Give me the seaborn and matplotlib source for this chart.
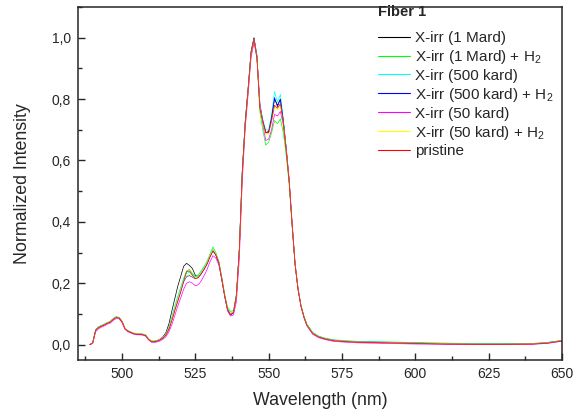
"""
Fiber 1 emission spectra, normalized, for several irradiation / H2 treatments.
"""

import numpy as np
import pandas as pd
import matplotlib
matplotlib.use("Agg")
import matplotlib.pyplot as plt
import seaborn as sns
from matplotlib.ticker import MultipleLocator, FuncFormatter

# ─────────────────────────────────────────────
# DATA
# ─────────────────────────────────────────────

WAVELENGTH = [
    489, 490, 491, 492, 493, 494, 495, 496, 497, 498,
    499, 500, 501, 502, 503, 504, 505, 506, 507, 508,
    509, 510, 511, 512, 513, 514, 515, 516, 517, 518,
    519, 520, 521, 522, 523, 524, 525, 526, 527, 528,
    529, 530, 531, 532, 533, 534, 535, 536, 537, 538,
    539, 540, 541, 542, 543, 544, 545, 546, 547, 548,
    549, 550, 551, 552, 553, 554, 555, 556, 557, 558,
    559, 560, 561, 562, 563,
    565, 567, 569, 572, 576, 580, 590, 600, 610, 620, 630, 640, 645, 650,
]

X_1MARD = [
    0.000, 0.006, 0.048, 0.057, 0.062, 0.066, 0.071, 0.075, 0.084, 0.090,
    0.088, 0.076, 0.053, 0.045, 0.041, 0.037, 0.035, 0.035, 0.034, 0.031,
    0.019, 0.011, 0.011, 0.013, 0.018, 0.026, 0.040, 0.068, 0.110, 0.150,
    0.190, 0.222, 0.255, 0.265, 0.258, 0.248, 0.226, 0.222, 0.232, 0.248,
    0.265, 0.288, 0.308, 0.292, 0.266, 0.212, 0.158, 0.112, 0.097, 0.104,
    0.158, 0.312, 0.565, 0.725, 0.835, 0.955, 1.000, 0.940, 0.775, 0.730,
    0.690, 0.695, 0.740, 0.800, 0.780, 0.800, 0.730, 0.635, 0.530, 0.390,
    0.262, 0.182, 0.127, 0.092, 0.065,
    0.038, 0.026, 0.020, 0.014, 0.011, 0.009, 0.007, 0.005, 0.003, 0.002, 0.002, 0.003, 0.006, 0.013,
]

X_1MARD_H2 = [
    0.000, 0.005, 0.046, 0.058, 0.063, 0.067, 0.072, 0.076, 0.085, 0.091,
    0.089, 0.077, 0.054, 0.045, 0.041, 0.037, 0.036, 0.035, 0.035, 0.032,
    0.020, 0.012, 0.012, 0.014, 0.018, 0.024, 0.035, 0.055, 0.090, 0.125,
    0.155, 0.185, 0.215, 0.240, 0.245, 0.232, 0.222, 0.228, 0.240, 0.255,
    0.272, 0.295, 0.318, 0.300, 0.272, 0.222, 0.165, 0.122, 0.108, 0.112,
    0.165, 0.305, 0.550, 0.710, 0.825, 0.945, 0.990, 0.930, 0.760, 0.700,
    0.650, 0.660, 0.690, 0.730, 0.720, 0.735, 0.690, 0.615, 0.520, 0.385,
    0.262, 0.184, 0.130, 0.095, 0.068,
    0.040, 0.028, 0.022, 0.016, 0.013, 0.011, 0.009, 0.007, 0.005, 0.004, 0.004, 0.004, 0.007, 0.014,
]

X_500K = [
    0.000, 0.006, 0.047, 0.057, 0.062, 0.066, 0.071, 0.075, 0.084, 0.090,
    0.088, 0.076, 0.053, 0.045, 0.041, 0.037, 0.035, 0.035, 0.034, 0.031,
    0.019, 0.011, 0.011, 0.013, 0.017, 0.024, 0.036, 0.056, 0.090, 0.125,
    0.155, 0.185, 0.215, 0.232, 0.236, 0.228, 0.220, 0.225, 0.238, 0.252,
    0.268, 0.292, 0.312, 0.298, 0.270, 0.220, 0.163, 0.118, 0.102, 0.108,
    0.162, 0.315, 0.565, 0.728, 0.838, 0.955, 0.998, 0.945, 0.785, 0.735,
    0.700, 0.700, 0.750, 0.825, 0.790, 0.815, 0.735, 0.640, 0.535, 0.392,
    0.263, 0.183, 0.128, 0.093, 0.066,
    0.039, 0.027, 0.021, 0.015, 0.012, 0.010, 0.008, 0.006, 0.004, 0.003, 0.003, 0.004, 0.007, 0.014,
]

X_500K_H2 = [
    0.000, 0.005, 0.046, 0.056, 0.061, 0.065, 0.070, 0.074, 0.083, 0.089,
    0.087, 0.075, 0.052, 0.044, 0.040, 0.036, 0.034, 0.034, 0.033, 0.030,
    0.018, 0.010, 0.010, 0.012, 0.016, 0.022, 0.033, 0.052, 0.082, 0.115,
    0.145, 0.175, 0.205, 0.222, 0.225, 0.220, 0.215, 0.220, 0.232, 0.247,
    0.264, 0.288, 0.306, 0.294, 0.268, 0.216, 0.160, 0.114, 0.098, 0.104,
    0.160, 0.312, 0.562, 0.725, 0.835, 0.952, 0.998, 0.940, 0.778, 0.728,
    0.692, 0.692, 0.740, 0.805, 0.775, 0.800, 0.728, 0.635, 0.532, 0.390,
    0.261, 0.181, 0.126, 0.091, 0.064,
    0.037, 0.026, 0.020, 0.014, 0.011, 0.009, 0.007, 0.005, 0.003, 0.002, 0.002, 0.003, 0.006, 0.013,
]

X_50K = [
    0.000, 0.004, 0.042, 0.052, 0.057, 0.061, 0.067, 0.070, 0.079, 0.085,
    0.084, 0.072, 0.050, 0.042, 0.038, 0.034, 0.032, 0.032, 0.031, 0.028,
    0.016, 0.008, 0.007, 0.009, 0.012, 0.018, 0.026, 0.042, 0.065, 0.095,
    0.125, 0.152, 0.180, 0.200, 0.205, 0.200, 0.192, 0.195, 0.208, 0.225,
    0.245, 0.270, 0.290, 0.282, 0.260, 0.215, 0.158, 0.110, 0.093, 0.097,
    0.140, 0.280, 0.530, 0.705, 0.815, 0.935, 0.985, 0.935, 0.790, 0.720,
    0.665, 0.670, 0.700, 0.750, 0.745, 0.760, 0.715, 0.640, 0.540, 0.400,
    0.268, 0.185, 0.126, 0.089, 0.062,
    0.034, 0.023, 0.017, 0.011, 0.008, 0.006, 0.004, 0.002, 0.001, 0.000, 0.000, 0.001, 0.004, 0.011,
]

X_50K_H2 = [
    0.000, 0.005, 0.045, 0.056, 0.061, 0.065, 0.071, 0.074, 0.083, 0.089,
    0.088, 0.076, 0.053, 0.045, 0.041, 0.037, 0.035, 0.035, 0.034, 0.031,
    0.019, 0.011, 0.011, 0.013, 0.017, 0.023, 0.034, 0.053, 0.084, 0.118,
    0.148, 0.178, 0.208, 0.225, 0.228, 0.222, 0.216, 0.222, 0.234, 0.249,
    0.266, 0.290, 0.309, 0.296, 0.270, 0.218, 0.162, 0.116, 0.100, 0.106,
    0.158, 0.308, 0.558, 0.720, 0.830, 0.948, 0.995, 0.938, 0.775, 0.722,
    0.685, 0.685, 0.725, 0.775, 0.765, 0.780, 0.720, 0.632, 0.530, 0.390,
    0.261, 0.181, 0.126, 0.091, 0.064,
    0.037, 0.026, 0.020, 0.014, 0.011, 0.009, 0.007, 0.005, 0.003, 0.002, 0.002, 0.003, 0.006, 0.013,
]

PRISTINE = [
    0.000, 0.005, 0.045, 0.055, 0.060, 0.064, 0.070, 0.073, 0.082, 0.088,
    0.087, 0.075, 0.052, 0.044, 0.040, 0.036, 0.034, 0.034, 0.033, 0.030,
    0.018, 0.010, 0.010, 0.012, 0.016, 0.022, 0.032, 0.050, 0.078, 0.110,
    0.140, 0.170, 0.205, 0.238, 0.240, 0.226, 0.215, 0.218, 0.230, 0.245,
    0.262, 0.285, 0.305, 0.292, 0.268, 0.215, 0.160, 0.115, 0.098, 0.105,
    0.160, 0.310, 0.560, 0.720, 0.830, 0.950, 0.995, 0.935, 0.770, 0.725,
    0.690, 0.690, 0.730, 0.780, 0.770, 0.785, 0.720, 0.630, 0.530, 0.390,
    0.260, 0.180, 0.125, 0.090, 0.063,
    0.036, 0.025, 0.019, 0.013, 0.010, 0.008, 0.006, 0.004, 0.002, 0.001, 0.001, 0.002, 0.005, 0.012,
]

LABELS = [
    "X-irr (1 Mard)",
    "X-irr (1 Mard) + H$_2$",
    "X-irr (500 kard)",
    "X-irr (500 kard) + H$_2$",
    "X-irr (50 kard)",
    "X-irr (50 kard) + H$_2$",
    "pristine",
]
SERIES = [X_1MARD, X_1MARD_H2, X_500K, X_500K_H2, X_50K, X_50K_H2, PRISTINE]
COLORS = ["#000000", "#00ff00", "#00ffff", "#0000ff", "#ff00ff", "#ffff00", "#ff0000"]

# ─────────────────────────────────────────────
# LONG-FORM TABLE
# ─────────────────────────────────────────────

frames = []
for label, values in zip(LABELS, SERIES):
    frames.append(pd.DataFrame({"wl": WAVELENGTH, "val": values, "sample": label}))
df = pd.concat(frames, ignore_index=True)

# ─────────────────────────────────────────────
# PLOT
# ─────────────────────────────────────────────

sns.set_style("ticks")
plt.rcParams["font.family"] = ["Liberation Sans", "DejaVu Sans"]
plt.rcParams["mathtext.fontset"] = "custom"
plt.rcParams["mathtext.rm"] = "Liberation Sans"
plt.rcParams["mathtext.it"] = "Liberation Sans"
plt.rcParams["xtick.direction"] = "in"
plt.rcParams["ytick.direction"] = "in"

fig = plt.figure(figsize=(5.74, 4.15), dpi=100)
ax = fig.add_axes([78 / 574, 1 - 360 / 415, 484 / 574, 353 / 415])

sns.lineplot(
    data=df, x="wl", y="val", hue="sample", hue_order=LABELS,
    palette=dict(zip(LABELS, COLORS)), linewidth=0.5, ax=ax,
    estimator=None, sort=False, legend=True,
)

ax.set_xlim(485, 650)
ax.set_ylim(-0.05, 1.1)
ax.xaxis.set_major_locator(MultipleLocator(25))
ax.xaxis.set_minor_locator(MultipleLocator(12.5))
ax.yaxis.set_major_locator(MultipleLocator(0.2))
ax.yaxis.set_minor_locator(MultipleLocator(0.1))
ax.yaxis.set_major_formatter(FuncFormatter(lambda v, _: f"{v:.1f}".replace(".", ",")))

ax.tick_params(which="major", length=5, width=1, labelsize=10, pad=5)
ax.tick_params(which="minor", length=3, width=1)
for side in ax.spines.values():
    side.set_linewidth(1.1)

ax.set_xlabel("Wavelength (nm)", fontsize=12.8, labelpad=8)
ax.set_ylabel("Normalized Intensity", fontsize=12.8, labelpad=15)

fig.text(378 / 574, 1 - 12 / 415, "Fiber 1", fontsize=10.5, fontweight="bold",
         ha="left", va="center")
leg = ax.legend(
    loc="upper left",
    bbox_to_anchor=(378 / 574, 1 - 31 / 415), bbox_transform=fig.transFigure,
    frameon=False, fontsize=11, handlelength=2.1, handletextpad=0.33,
    labelspacing=0.19, borderpad=0, borderaxespad=0,
)
for handle in leg.get_lines():
    handle.set_linewidth(0.8)

fig.savefig("out.png", dpi=100)
